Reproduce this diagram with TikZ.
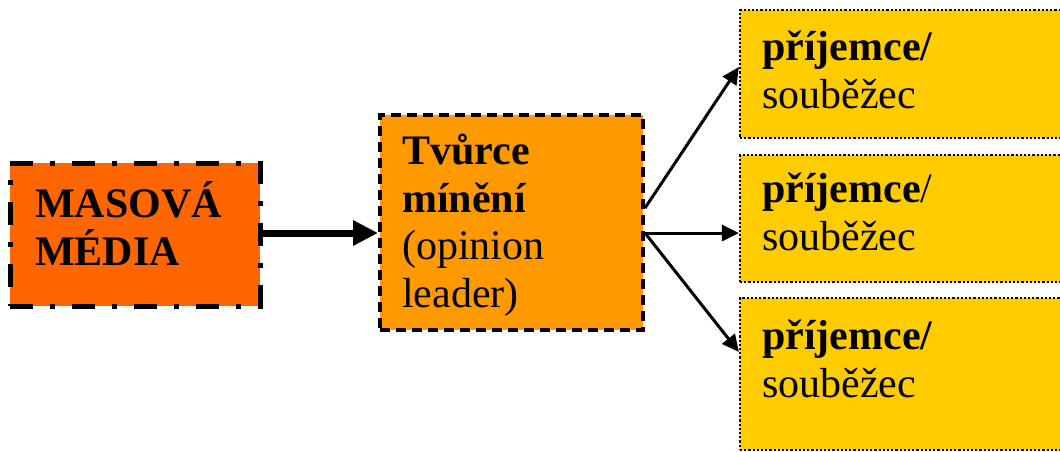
\documentclass[tikz,border=0pt]{standalone}
\usepackage{fontspec}
\setmainfont{Liberation Serif}
\usetikzlibrary{arrows.meta}

\definecolor{mediaorange}{HTML}{FF6600}
\definecolor{leaderorange}{HTML}{FF9900}
\definecolor{receiveryellow}{HTML}{FFCC00}

\tikzset{
	media/.style={draw=black, fill=mediaorange, line width=5pt, dash pattern=on 23pt off 17pt on 5pt off 17pt, minimum width=250pt, minimum height=143pt, inner sep=0pt},
	leader/.style={draw=black, fill=leaderorange, line width=4pt, dash pattern=on 10pt off 6pt, minimum width=263pt, minimum height=215pt, inner sep=0pt},
	receiver/.style={draw=black, fill=receiveryellow, line width=2.2pt, dash pattern=on 2.2pt off 2pt, minimum width=340pt, inner sep=0pt},
	txt/.style={anchor=base west, align=left, inner sep=0pt, font=\fontsize{42}{47.5}\selectfont},
	bigflow/.style={line width=7pt, -{Triangle[length=25pt, width=24pt]}},
	flow/.style={line width=3pt, -{Triangle[length=17pt, width=16pt]}}
}

\begin{document}
\begin{tikzpicture}[x=1pt, y=-1pt]
			%%%%% START %%%%%
			\useasboundingbox (0, 0) rectangle (1060, 451);
			
			% boxes
			\node[media] (media) at (135, 234.5) {};
			\node[leader] (leader) at (511.5, 222.5) {};
			\node[receiver, minimum height=128pt] (recA) at (910, 74) {};
			\node[receiver, minimum height=127pt] (recB) at (910, 218.5) {};
			\node[receiver, minimum height=152pt] (recC) at (910, 374) {};
			
			% texts (base = last line)
			\node[txt] (mediatext) at (35, 265) {\textbf{MASOVÁ}\\\textbf{MÉDIA}};
			\node[txt] (leadertext) at (402, 307) {\textbf{Tvůrce}\\\textbf{mínění}\\(opinion\\leader)};
			\node[txt] (recAtext) at (762, 108) {\textbf{příjemce/}\\souběžec};
			\node[txt] (recBtext) at (762, 250) {\textbf{příjemce}/\\souběžec};
			\node[txt] (recCtext) at (762, 397) {\textbf{příjemce/}\\souběžec};
			
			% arrows
			\coordinate (fork) at ([yshift=-10.5pt]leader.east);
			\draw[bigflow] (media.east |- fork) -- (leader.west |- fork);
			\draw[flow] ([yshift=25pt]fork) -- ([yshift=7pt]recA.west);
			\draw[flow] (fork) -- (recB.west |- fork);
			\draw[flow] (fork) -- ([yshift=22pt]recC.west);
			%%%%% END %%%%%
		\end{tikzpicture}
\end{document}
